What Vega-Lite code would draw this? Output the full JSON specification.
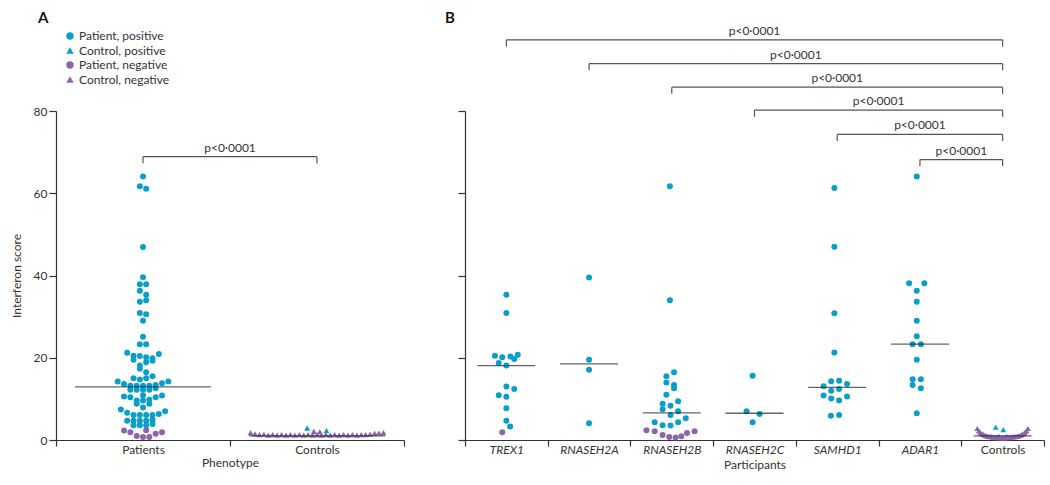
{
  "$schema": "https://vega.github.io/schema/vega-lite/v6.json",
  "padding": {"left": 10, "top": 10, "right": 5, "bottom": 5},
  "background": "white",
  "config": {
    "font": "Lato",
    "view": {"stroke": null},
    "axis": {"domainColor": "#333", "tickColor": "#333", "labelColor": "#333", "titleColor": "#333", "labelFontSize": 12, "titleFontSize": 12, "titleFontWeight": "normal", "grid": false, "tickSize": 7, "domainWidth": 1.2, "tickWidth": 1.2},
    "legend": {"labelFontSize": 12, "labelColor": "#333"}
  },
  "datasets": {
    "a_pts": [
      {"cat": "Patients", "group": "Patient, positive", "score": 64.1, "lane": 0},
      {"cat": "Patients", "group": "Patient, positive", "score": 61.7, "lane": -1},
      {"cat": "Patients", "group": "Patient, positive", "score": 61.1, "lane": 1},
      {"cat": "Patients", "group": "Patient, positive", "score": 46.9, "lane": 0},
      {"cat": "Patients", "group": "Patient, positive", "score": 39.6, "lane": 0},
      {"cat": "Patients", "group": "Patient, positive", "score": 37.9, "lane": -1},
      {"cat": "Patients", "group": "Patient, positive", "score": 37.9, "lane": 1},
      {"cat": "Patients", "group": "Patient, positive", "score": 36.3, "lane": -1},
      {"cat": "Patients", "group": "Patient, positive", "score": 35.3, "lane": 1},
      {"cat": "Patients", "group": "Patient, positive", "score": 33.6, "lane": -1},
      {"cat": "Patients", "group": "Patient, positive", "score": 34.0, "lane": 1},
      {"cat": "Patients", "group": "Patient, positive", "score": 30.9, "lane": -1},
      {"cat": "Patients", "group": "Patient, positive", "score": 30.6, "lane": 1},
      {"cat": "Patients", "group": "Patient, positive", "score": 29.0, "lane": 0},
      {"cat": "Patients", "group": "Patient, positive", "score": 25.1, "lane": 0},
      {"cat": "Patients", "group": "Patient, positive", "score": 23.3, "lane": -1},
      {"cat": "Patients", "group": "Patient, positive", "score": 23.3, "lane": 1},
      {"cat": "Patients", "group": "Patient, positive", "score": 21.2, "lane": -5},
      {"cat": "Patients", "group": "Patient, positive", "score": 20.5, "lane": -3},
      {"cat": "Patients", "group": "Patient, positive", "score": 20.4, "lane": -1},
      {"cat": "Patients", "group": "Patient, positive", "score": 20.1, "lane": 1},
      {"cat": "Patients", "group": "Patient, positive", "score": 19.9, "lane": 3},
      {"cat": "Patients", "group": "Patient, positive", "score": 20.9, "lane": 5},
      {"cat": "Patients", "group": "Patient, positive", "score": 19.5, "lane": -3},
      {"cat": "Patients", "group": "Patient, positive", "score": 19.3, "lane": 3},
      {"cat": "Patients", "group": "Patient, positive", "score": 18.9, "lane": 1},
      {"cat": "Patients", "group": "Patient, positive", "score": 18.1, "lane": -1},
      {"cat": "Patients", "group": "Patient, positive", "score": 17.3, "lane": -1},
      {"cat": "Patients", "group": "Patient, positive", "score": 16.5, "lane": 1},
      {"cat": "Patients", "group": "Patient, positive", "score": 15.5, "lane": 3},
      {"cat": "Patients", "group": "Patient, positive", "score": 15.0, "lane": -3},
      {"cat": "Patients", "group": "Patient, positive", "score": 14.7, "lane": -1},
      {"cat": "Patients", "group": "Patient, positive", "score": 15.0, "lane": 1},
      {"cat": "Patients", "group": "Patient, positive", "score": 14.2, "lane": -8},
      {"cat": "Patients", "group": "Patient, positive", "score": 13.6, "lane": -6},
      {"cat": "Patients", "group": "Patient, positive", "score": 13.2, "lane": -4},
      {"cat": "Patients", "group": "Patient, positive", "score": 13.2, "lane": -2},
      {"cat": "Patients", "group": "Patient, positive", "score": 13.2, "lane": 0},
      {"cat": "Patients", "group": "Patient, positive", "score": 13.2, "lane": 2},
      {"cat": "Patients", "group": "Patient, positive", "score": 13.4, "lane": 4},
      {"cat": "Patients", "group": "Patient, positive", "score": 13.8, "lane": 6},
      {"cat": "Patients", "group": "Patient, positive", "score": 14.2, "lane": 8},
      {"cat": "Patients", "group": "Patient, positive", "score": 12.2, "lane": -4},
      {"cat": "Patients", "group": "Patient, positive", "score": 12.2, "lane": -2},
      {"cat": "Patients", "group": "Patient, positive", "score": 12.2, "lane": 0},
      {"cat": "Patients", "group": "Patient, positive", "score": 12.2, "lane": 2},
      {"cat": "Patients", "group": "Patient, positive", "score": 12.6, "lane": 4},
      {"cat": "Patients", "group": "Patient, positive", "score": 10.6, "lane": -6},
      {"cat": "Patients", "group": "Patient, positive", "score": 10.4, "lane": -4},
      {"cat": "Patients", "group": "Patient, positive", "score": 10.9, "lane": 0},
      {"cat": "Patients", "group": "Patient, positive", "score": 10.4, "lane": 4},
      {"cat": "Patients", "group": "Patient, positive", "score": 10.8, "lane": 6},
      {"cat": "Patients", "group": "Patient, positive", "score": 9.6, "lane": -2},
      {"cat": "Patients", "group": "Patient, positive", "score": 9.6, "lane": 0},
      {"cat": "Patients", "group": "Patient, positive", "score": 9.8, "lane": 2},
      {"cat": "Patients", "group": "Patient, positive", "score": 8.8, "lane": -2},
      {"cat": "Patients", "group": "Patient, positive", "score": 8.8, "lane": 2},
      {"cat": "Patients", "group": "Patient, positive", "score": 7.9, "lane": 0},
      {"cat": "Patients", "group": "Patient, positive", "score": 7.4, "lane": -7},
      {"cat": "Patients", "group": "Patient, positive", "score": 6.6, "lane": -5},
      {"cat": "Patients", "group": "Patient, positive", "score": 6.1, "lane": -3},
      {"cat": "Patients", "group": "Patient, positive", "score": 6.1, "lane": -1},
      {"cat": "Patients", "group": "Patient, positive", "score": 6.1, "lane": 1},
      {"cat": "Patients", "group": "Patient, positive", "score": 6.1, "lane": 3},
      {"cat": "Patients", "group": "Patient, positive", "score": 6.3, "lane": 5},
      {"cat": "Patients", "group": "Patient, positive", "score": 7.0, "lane": 7},
      {"cat": "Patients", "group": "Patient, positive", "score": 4.7, "lane": -5},
      {"cat": "Patients", "group": "Patient, positive", "score": 4.7, "lane": -3},
      {"cat": "Patients", "group": "Patient, positive", "score": 4.7, "lane": -1},
      {"cat": "Patients", "group": "Patient, positive", "score": 4.7, "lane": 1},
      {"cat": "Patients", "group": "Patient, positive", "score": 4.9, "lane": 3},
      {"cat": "Patients", "group": "Patient, positive", "score": 3.6, "lane": -3},
      {"cat": "Patients", "group": "Patient, positive", "score": 3.6, "lane": -1},
      {"cat": "Patients", "group": "Patient, positive", "score": 3.6, "lane": 1},
      {"cat": "Patients", "group": "Patient, positive", "score": 3.9, "lane": 3},
      {"cat": "Patients", "group": "Patient, negative", "score": 2.3, "lane": -6},
      {"cat": "Patients", "group": "Patient, negative", "score": 1.9, "lane": -4},
      {"cat": "Patients", "group": "Patient, negative", "score": 1.0, "lane": -2},
      {"cat": "Patients", "group": "Patient, negative", "score": 0.7, "lane": 0},
      {"cat": "Patients", "group": "Patient, negative", "score": 0.7, "lane": 2},
      {"cat": "Patients", "group": "Patient, negative", "score": 2.4, "lane": 1},
      {"cat": "Patients", "group": "Patient, negative", "score": 1.5, "lane": 4},
      {"cat": "Patients", "group": "Patient, negative", "score": 1.9, "lane": 6},
      {"cat": "Controls", "group": "Control, negative", "score": 1.8, "lane": -21},
      {"cat": "Controls", "group": "Control, negative", "score": 1.5, "lane": -19.6},
      {"cat": "Controls", "group": "Control, negative", "score": 1.3, "lane": -18.2},
      {"cat": "Controls", "group": "Control, negative", "score": 1.4, "lane": -16.8},
      {"cat": "Controls", "group": "Control, negative", "score": 1.2, "lane": -15.4},
      {"cat": "Controls", "group": "Control, negative", "score": 1.3, "lane": -14},
      {"cat": "Controls", "group": "Control, negative", "score": 1.2, "lane": -12.6},
      {"cat": "Controls", "group": "Control, negative", "score": 1.3, "lane": -11.2},
      {"cat": "Controls", "group": "Control, negative", "score": 1.2, "lane": -9.8},
      {"cat": "Controls", "group": "Control, negative", "score": 1.3, "lane": -8.4},
      {"cat": "Controls", "group": "Control, negative", "score": 1.2, "lane": -7},
      {"cat": "Controls", "group": "Control, negative", "score": 1.3, "lane": -5.6},
      {"cat": "Controls", "group": "Control, negative", "score": 1.2, "lane": -4.2},
      {"cat": "Controls", "group": "Control, negative", "score": 1.3, "lane": -2.8},
      {"cat": "Controls", "group": "Control, negative", "score": 1.2, "lane": -1.4},
      {"cat": "Controls", "group": "Control, negative", "score": 1.3, "lane": 0},
      {"cat": "Controls", "group": "Control, negative", "score": 1.2, "lane": 1.4},
      {"cat": "Controls", "group": "Control, negative", "score": 1.3, "lane": 2.8},
      {"cat": "Controls", "group": "Control, negative", "score": 1.2, "lane": 4.2},
      {"cat": "Controls", "group": "Control, negative", "score": 1.3, "lane": 5.6},
      {"cat": "Controls", "group": "Control, negative", "score": 1.2, "lane": 7},
      {"cat": "Controls", "group": "Control, negative", "score": 1.3, "lane": 8.4},
      {"cat": "Controls", "group": "Control, negative", "score": 1.2, "lane": 9.8},
      {"cat": "Controls", "group": "Control, negative", "score": 1.3, "lane": 11.2},
      {"cat": "Controls", "group": "Control, negative", "score": 1.2, "lane": 12.6},
      {"cat": "Controls", "group": "Control, negative", "score": 1.3, "lane": 14},
      {"cat": "Controls", "group": "Control, negative", "score": 1.3, "lane": 15.4},
      {"cat": "Controls", "group": "Control, negative", "score": 1.4, "lane": 16.8},
      {"cat": "Controls", "group": "Control, negative", "score": 1.6, "lane": 18.2},
      {"cat": "Controls", "group": "Control, negative", "score": 1.7, "lane": 19.6},
      {"cat": "Controls", "group": "Control, negative", "score": 1.8, "lane": 21},
      {"cat": "Controls", "group": "Control, negative", "score": 2.1, "lane": -1.0},
      {"cat": "Controls", "group": "Control, negative", "score": 2.0, "lane": 0.9},
      {"cat": "Controls", "group": "Control, positive", "score": 2.9, "lane": -3.1},
      {"cat": "Controls", "group": "Control, positive", "score": 2.3, "lane": 3.0}
    ],
    "b_pts": [
      {"cat": "TREX1", "group": "Patient, positive", "score": 35.3, "lane": 0},
      {"cat": "TREX1", "group": "Patient, positive", "score": 30.9, "lane": 0},
      {"cat": "TREX1", "group": "Patient, positive", "score": 20.5, "lane": -3.6},
      {"cat": "TREX1", "group": "Patient, positive", "score": 20.1, "lane": -1.3},
      {"cat": "TREX1", "group": "Patient, positive", "score": 20.3, "lane": 1.3},
      {"cat": "TREX1", "group": "Patient, positive", "score": 20.7, "lane": 3.6},
      {"cat": "TREX1", "group": "Patient, positive", "score": 18.7, "lane": -2.4},
      {"cat": "TREX1", "group": "Patient, positive", "score": 18.1, "lane": 0},
      {"cat": "TREX1", "group": "Patient, positive", "score": 19.7, "lane": 2.5},
      {"cat": "TREX1", "group": "Patient, positive", "score": 13.0, "lane": 0},
      {"cat": "TREX1", "group": "Patient, positive", "score": 12.4, "lane": 2.5},
      {"cat": "TREX1", "group": "Patient, positive", "score": 10.9, "lane": -2.4},
      {"cat": "TREX1", "group": "Patient, positive", "score": 10.5, "lane": 0},
      {"cat": "TREX1", "group": "Patient, positive", "score": 7.7, "lane": 0},
      {"cat": "TREX1", "group": "Patient, positive", "score": 4.7, "lane": 0},
      {"cat": "TREX1", "group": "Patient, positive", "score": 3.3, "lane": 1.2},
      {"cat": "TREX1", "group": "Patient, negative", "score": 1.9, "lane": -1.3},
      {"cat": "RNASEH2A", "group": "Patient, positive", "score": 39.5, "lane": 0},
      {"cat": "RNASEH2A", "group": "Patient, positive", "score": 19.5, "lane": 0},
      {"cat": "RNASEH2A", "group": "Patient, positive", "score": 17.1, "lane": 0},
      {"cat": "RNASEH2A", "group": "Patient, positive", "score": 4.1, "lane": 0},
      {"cat": "RNASEH2B", "group": "Patient, positive", "score": 61.7, "lane": -0.6},
      {"cat": "RNASEH2B", "group": "Patient, positive", "score": 34.0, "lane": -0.6},
      {"cat": "RNASEH2B", "group": "Patient, positive", "score": 16.5, "lane": 0.7},
      {"cat": "RNASEH2B", "group": "Patient, positive", "score": 15.5, "lane": -1.7},
      {"cat": "RNASEH2B", "group": "Patient, positive", "score": 14.0, "lane": -1.7},
      {"cat": "RNASEH2B", "group": "Patient, positive", "score": 13.4, "lane": 0.7},
      {"cat": "RNASEH2B", "group": "Patient, positive", "score": 12.6, "lane": 0.7},
      {"cat": "RNASEH2B", "group": "Patient, positive", "score": 11.0, "lane": -1.7},
      {"cat": "RNASEH2B", "group": "Patient, positive", "score": 9.4, "lane": 2},
      {"cat": "RNASEH2B", "group": "Patient, positive", "score": 8.8, "lane": -2.9},
      {"cat": "RNASEH2B", "group": "Patient, positive", "score": 8.3, "lane": -0.4},
      {"cat": "RNASEH2B", "group": "Patient, positive", "score": 7.5, "lane": -2.9},
      {"cat": "RNASEH2B", "group": "Patient, positive", "score": 7.0, "lane": 2},
      {"cat": "RNASEH2B", "group": "Patient, positive", "score": 6.1, "lane": -0.4},
      {"cat": "RNASEH2B", "group": "Patient, positive", "score": 5.3, "lane": 4.4},
      {"cat": "RNASEH2B", "group": "Patient, positive", "score": 4.3, "lane": -5.4},
      {"cat": "RNASEH2B", "group": "Patient, positive", "score": 3.6, "lane": -2.9},
      {"cat": "RNASEH2B", "group": "Patient, positive", "score": 3.5, "lane": -0.4},
      {"cat": "RNASEH2B", "group": "Patient, positive", "score": 4.3, "lane": 2},
      {"cat": "RNASEH2B", "group": "Patient, negative", "score": 2.4, "lane": -8},
      {"cat": "RNASEH2B", "group": "Patient, negative", "score": 2.1, "lane": -5.4},
      {"cat": "RNASEH2B", "group": "Patient, negative", "score": 1.2, "lane": -2.9},
      {"cat": "RNASEH2B", "group": "Patient, negative", "score": 0.7, "lane": -0.8},
      {"cat": "RNASEH2B", "group": "Patient, negative", "score": 0.6, "lane": 1.2},
      {"cat": "RNASEH2B", "group": "Patient, negative", "score": 0.9, "lane": 3.0},
      {"cat": "RNASEH2B", "group": "Patient, negative", "score": 1.7, "lane": 4.8},
      {"cat": "RNASEH2B", "group": "Patient, negative", "score": 2.1, "lane": 7.2},
      {"cat": "RNASEH2C", "group": "Patient, positive", "score": 15.6, "lane": -0.6},
      {"cat": "RNASEH2C", "group": "Patient, positive", "score": 7.0, "lane": -2.5},
      {"cat": "RNASEH2C", "group": "Patient, positive", "score": 6.3, "lane": 1.6},
      {"cat": "RNASEH2C", "group": "Patient, positive", "score": 4.3, "lane": -0.6},
      {"cat": "SAMHD1", "group": "Patient, positive", "score": 61.3, "lane": -0.9},
      {"cat": "SAMHD1", "group": "Patient, positive", "score": 47.0, "lane": -0.9},
      {"cat": "SAMHD1", "group": "Patient, positive", "score": 30.8, "lane": -0.9},
      {"cat": "SAMHD1", "group": "Patient, positive", "score": 21.3, "lane": -0.9},
      {"cat": "SAMHD1", "group": "Patient, positive", "score": 14.3, "lane": -1.9},
      {"cat": "SAMHD1", "group": "Patient, positive", "score": 14.4, "lane": 0.6},
      {"cat": "SAMHD1", "group": "Patient, positive", "score": 13.1, "lane": -4.3},
      {"cat": "SAMHD1", "group": "Patient, positive", "score": 13.6, "lane": 3.1},
      {"cat": "SAMHD1", "group": "Patient, positive", "score": 12.0, "lane": -1.9},
      {"cat": "SAMHD1", "group": "Patient, positive", "score": 12.4, "lane": 0.6},
      {"cat": "SAMHD1", "group": "Patient, positive", "score": 10.8, "lane": -4.3},
      {"cat": "SAMHD1", "group": "Patient, positive", "score": 10.1, "lane": -1.9},
      {"cat": "SAMHD1", "group": "Patient, positive", "score": 9.6, "lane": 0.6},
      {"cat": "SAMHD1", "group": "Patient, positive", "score": 10.6, "lane": 3.1},
      {"cat": "SAMHD1", "group": "Patient, positive", "score": 5.9, "lane": -2},
      {"cat": "SAMHD1", "group": "Patient, positive", "score": 6.1, "lane": 0.6},
      {"cat": "ADAR1", "group": "Patient, positive", "score": 64.1, "lane": -1},
      {"cat": "ADAR1", "group": "Patient, positive", "score": 38.1, "lane": -3.4},
      {"cat": "ADAR1", "group": "Patient, positive", "score": 38.1, "lane": 1.4},
      {"cat": "ADAR1", "group": "Patient, positive", "score": 36.3, "lane": -1},
      {"cat": "ADAR1", "group": "Patient, positive", "score": 33.6, "lane": -1},
      {"cat": "ADAR1", "group": "Patient, positive", "score": 29.0, "lane": -1},
      {"cat": "ADAR1", "group": "Patient, positive", "score": 25.2, "lane": -1},
      {"cat": "ADAR1", "group": "Patient, positive", "score": 23.3, "lane": -2.3},
      {"cat": "ADAR1", "group": "Patient, positive", "score": 23.3, "lane": 0.3},
      {"cat": "ADAR1", "group": "Patient, positive", "score": 19.5, "lane": -1},
      {"cat": "ADAR1", "group": "Patient, positive", "score": 14.8, "lane": -2.3},
      {"cat": "ADAR1", "group": "Patient, positive", "score": 14.8, "lane": 0.3},
      {"cat": "ADAR1", "group": "Patient, positive", "score": 13.4, "lane": -2.3},
      {"cat": "ADAR1", "group": "Patient, positive", "score": 12.6, "lane": 0.3},
      {"cat": "ADAR1", "group": "Patient, positive", "score": 6.5, "lane": -1},
      {"cat": "Controls", "group": "Control, negative", "score": 2.8, "lane": -8},
      {"cat": "Controls", "group": "Control, negative", "score": 2.2, "lane": -7.5},
      {"cat": "Controls", "group": "Control, negative", "score": 1.8, "lane": -7},
      {"cat": "Controls", "group": "Control, negative", "score": 1.5, "lane": -6.5},
      {"cat": "Controls", "group": "Control, negative", "score": 1.3, "lane": -6},
      {"cat": "Controls", "group": "Control, negative", "score": 1.1, "lane": -5.5},
      {"cat": "Controls", "group": "Control, negative", "score": 1.0, "lane": -5},
      {"cat": "Controls", "group": "Control, negative", "score": 0.9, "lane": -4.5},
      {"cat": "Controls", "group": "Control, negative", "score": 0.8, "lane": -4},
      {"cat": "Controls", "group": "Control, negative", "score": 0.8, "lane": -3.5},
      {"cat": "Controls", "group": "Control, negative", "score": 0.7, "lane": -3},
      {"cat": "Controls", "group": "Control, negative", "score": 0.7, "lane": -2.5},
      {"cat": "Controls", "group": "Control, negative", "score": 0.7, "lane": -2},
      {"cat": "Controls", "group": "Control, negative", "score": 0.6, "lane": -1.5},
      {"cat": "Controls", "group": "Control, negative", "score": 0.6, "lane": -1},
      {"cat": "Controls", "group": "Control, negative", "score": 0.6, "lane": -0.5},
      {"cat": "Controls", "group": "Control, negative", "score": 0.6, "lane": 0},
      {"cat": "Controls", "group": "Control, negative", "score": 0.6, "lane": 0.5},
      {"cat": "Controls", "group": "Control, negative", "score": 0.6, "lane": 1},
      {"cat": "Controls", "group": "Control, negative", "score": 0.6, "lane": 1.5},
      {"cat": "Controls", "group": "Control, negative", "score": 0.7, "lane": 2},
      {"cat": "Controls", "group": "Control, negative", "score": 0.7, "lane": 2.5},
      {"cat": "Controls", "group": "Control, negative", "score": 0.7, "lane": 3},
      {"cat": "Controls", "group": "Control, negative", "score": 0.8, "lane": 3.5},
      {"cat": "Controls", "group": "Control, negative", "score": 0.8, "lane": 4},
      {"cat": "Controls", "group": "Control, negative", "score": 0.9, "lane": 4.5},
      {"cat": "Controls", "group": "Control, negative", "score": 1.0, "lane": 5},
      {"cat": "Controls", "group": "Control, negative", "score": 1.1, "lane": 5.5},
      {"cat": "Controls", "group": "Control, negative", "score": 1.3, "lane": 6},
      {"cat": "Controls", "group": "Control, negative", "score": 1.5, "lane": 6.5},
      {"cat": "Controls", "group": "Control, negative", "score": 1.8, "lane": 7},
      {"cat": "Controls", "group": "Control, negative", "score": 2.2, "lane": 7.5},
      {"cat": "Controls", "group": "Control, negative", "score": 2.8, "lane": 8},
      {"cat": "Controls", "group": "Control, negative", "score": 0.9, "lane": -1.2},
      {"cat": "Controls", "group": "Control, negative", "score": 0.9, "lane": 1.2},
      {"cat": "Controls", "group": "Control, positive", "score": 3.1, "lane": -2.2},
      {"cat": "Controls", "group": "Control, positive", "score": 2.5, "lane": 0.2}
    ],
    "a_med": [
      {"cat": "Patients", "median": 12.9},
      {"cat": "Controls", "median": 1.0}
    ],
    "b_med": [
      {"cat": "TREX1", "median": 18.1},
      {"cat": "RNASEH2A", "median": 18.5},
      {"cat": "RNASEH2B", "median": 6.6},
      {"cat": "RNASEH2C", "median": 6.5},
      {"cat": "SAMHD1", "median": 12.8},
      {"cat": "ADAR1", "median": 23.3},
      {"cat": "Controls", "median": 1.0}
    ],
    "a_br": [
      {"from": "Patients", "to": "Controls", "y": 68.9, "yEnd": 67.3, "mid": "Controls", "at": "start", "label": "p<0·0001"}
    ],
    "b_br": [
      {"from": "TREX1", "to": "Controls", "y": 97.3, "yEnd": 95.7, "mid": "RNASEH2C", "at": "center", "label": "p<0·0001"},
      {"from": "RNASEH2A", "to": "Controls", "y": 91.5, "yEnd": 89.9, "mid": "SAMHD1", "at": "start", "label": "p<0·0001"},
      {"from": "RNASEH2B", "to": "Controls", "y": 85.8, "yEnd": 84.2, "mid": "SAMHD1", "at": "center", "label": "p<0·0001"},
      {"from": "RNASEH2C", "to": "Controls", "y": 80.2, "yEnd": 78.6, "mid": "ADAR1", "at": "start", "label": "p<0·0001"},
      {"from": "SAMHD1", "to": "Controls", "y": 74.3, "yEnd": 72.7, "mid": "ADAR1", "at": "center", "label": "p<0·0001"},
      {"from": "ADAR1", "to": "Controls", "y": 68.2, "yEnd": 66.6, "mid": "Controls", "at": "start", "label": "p<0·0001"}
    ]
  },
  "resolve": {"scale": {"color": "independent", "shape": "independent", "xOffset": "independent"}},
  "spacing": 40,
  "hconcat": [
    {
      "width": 348,
      "height": 329,
      "title": {"text": "A", "anchor": "start", "frame": "group", "offset": 4, "dx": -18, "fontSize": 15, "fontWeight": "bold", "color": "#111"},
      "layer": [
        {
          "data": {"name": "a_pts"},
          "mark": {"type": "point", "filled": true, "opacity": 1, "size": 36},
          "encoding": {
            "x": {"field": "cat", "type": "nominal", "title": "Phenotype",
                  "scale": {"domain": ["Patients", "Controls"], "paddingInner": 0, "paddingOuter": 0},
                  "axis": {"labelAngle": 0, "tickBand": "extent", "tickSize": 6, "labelPadding": -2, "titlePadding": 2}},
            "xOffset": {"field": "lane", "type": "quantitative", "scale": {"domain": [-27.5, 27.5]}},
            "y": {"field": "score", "type": "quantitative", "title": "Interferon score",
                  "scale": {"domain": [0, 80], "nice": false},
                  "axis": {"values": [0, 20, 40, 60, 80], "titlePadding": 10, "labelPadding": 2}},
            "color": {"field": "group", "type": "nominal",
                      "scale": {"domain": ["Patient, positive", "Control, positive", "Patient, negative", "Control, negative"], "range": ["#0a9fc9", "#0a9fc9", "#8c64aa", "#8c64aa"]},
                      "legend": {"title": null, "orient": "none", "legendX": 8, "legendY": -81, "symbolSize": 55, "rowPadding": 2.5, "labelOffset": 3, "symbolStrokeWidth": 0}},
            "shape": {"field": "group", "type": "nominal",
                      "scale": {"domain": ["Patient, positive", "Control, positive", "Patient, negative", "Control, negative"], "range": ["circle", "triangle-up", "circle", "triangle-up"]}}
          }
        },
        {
          "data": {"name": "a_med"},
          "mark": {"type": "tick", "color": "#222", "thickness": 1.3, "size": 136},
          "encoding": {
            "x": {"field": "cat", "type": "nominal", "bandPosition": 0.5},
            "y": {"field": "median", "type": "quantitative"}
          }
        },
        {
          "data": {"name": "a_br"},
          "mark": {"type": "rule", "color": "#555", "strokeWidth": 1.2},
          "encoding": {
            "x": {"field": "from", "type": "nominal"},
            "x2": {"field": "to"},
            "y": {"field": "y", "type": "quantitative"}
          }
        },
        {
          "data": {"name": "a_br"},
          "mark": {"type": "rule", "color": "#555", "strokeWidth": 1.2},
          "encoding": {
            "x": {"field": "from", "type": "nominal"},
            "y": {"field": "y", "type": "quantitative"},
            "y2": {"field": "yEnd"}
          }
        },
        {
          "data": {"name": "a_br"},
          "mark": {"type": "rule", "color": "#555", "strokeWidth": 1.2},
          "encoding": {
            "x": {"field": "to", "type": "nominal"},
            "y": {"field": "y", "type": "quantitative"},
            "y2": {"field": "yEnd"}
          }
        },
        {
          "data": {"name": "a_br"},
          "mark": {"type": "text", "fontSize": 12, "color": "#333", "baseline": "bottom", "dy": -2},
          "encoding": {
            "x": {"field": "mid", "type": "nominal", "bandPosition": 0},
            "y": {"field": "y", "type": "quantitative"},
            "text": {"field": "label"}
          }
        }
      ]
    },
    {
      "width": 579,
      "height": 329,
      "title": {"text": "B", "anchor": "start", "frame": "group", "offset": -1, "dx": -20, "fontSize": 15, "fontWeight": "bold", "color": "#111"},
      "layer": [
        {
          "data": {"name": "b_pts"},
          "mark": {"type": "point", "filled": true, "opacity": 1, "size": 36},
          "encoding": {
            "x": {"field": "cat", "type": "nominal", "title": "Participants",
                  "scale": {"domain": ["TREX1", "RNASEH2A", "RNASEH2B", "RNASEH2C", "SAMHD1", "ADAR1", "Controls"], "paddingInner": 0, "paddingOuter": 0},
                  "axis": {"labelAngle": 0, "tickBand": "extent", "tickSize": 6, "labelPadding": -2, "titlePadding": 4,
                           "labelFontStyle": {"expr": "datum.value === 'Controls' ? 'normal' : 'italic'"}}},
            "xOffset": {"field": "lane", "type": "quantitative", "scale": {"domain": [-13.05, 13.05]}},
            "y": {"field": "score", "type": "quantitative", "title": null,
                  "scale": {"domain": [0, 80], "nice": false},
                  "axis": {"values": [0, 20, 40, 60, 80], "labels": false}},
            "color": {"field": "group", "type": "nominal",
                      "scale": {"domain": ["Patient, positive", "Control, positive", "Patient, negative", "Control, negative"], "range": ["#0a9fc9", "#0a9fc9", "#8c64aa", "#8c64aa"]},
                      "legend": null},
            "shape": {"field": "group", "type": "nominal",
                      "scale": {"domain": ["Patient, positive", "Control, positive", "Patient, negative", "Control, negative"], "range": ["circle", "triangle-up", "circle", "triangle-up"]},
                      "legend": null}
          }
        },
        {
          "data": {"name": "b_med"},
          "mark": {"type": "tick", "color": "#222", "thickness": 1.3, "size": 58},
          "encoding": {
            "x": {"field": "cat", "type": "nominal", "bandPosition": 0.5},
            "y": {"field": "median", "type": "quantitative"}
          }
        },
        {
          "data": {"name": "b_br"},
          "mark": {"type": "rule", "color": "#555", "strokeWidth": 1.2},
          "encoding": {
            "x": {"field": "from", "type": "nominal"},
            "x2": {"field": "to"},
            "y": {"field": "y", "type": "quantitative"}
          }
        },
        {
          "data": {"name": "b_br"},
          "mark": {"type": "rule", "color": "#555", "strokeWidth": 1.2},
          "encoding": {
            "x": {"field": "from", "type": "nominal"},
            "y": {"field": "y", "type": "quantitative"},
            "y2": {"field": "yEnd"}
          }
        },
        {
          "data": {"name": "b_br"},
          "mark": {"type": "rule", "color": "#555", "strokeWidth": 1.2},
          "encoding": {
            "x": {"field": "to", "type": "nominal"},
            "y": {"field": "y", "type": "quantitative"},
            "y2": {"field": "yEnd"}
          }
        },
        {
          "data": {"name": "b_br"},
          "transform": [{"filter": "datum.at === 'center'"}],
          "mark": {"type": "text", "fontSize": 12, "color": "#333", "baseline": "bottom", "dy": -2},
          "encoding": {
            "x": {"field": "mid", "type": "nominal"},
            "y": {"field": "y", "type": "quantitative"},
            "text": {"field": "label"}
          }
        },
        {
          "data": {"name": "b_br"},
          "transform": [{"filter": "datum.at === 'start'"}],
          "mark": {"type": "text", "fontSize": 12, "color": "#333", "baseline": "bottom", "dy": -2},
          "encoding": {
            "x": {"field": "mid", "type": "nominal", "bandPosition": 0},
            "y": {"field": "y", "type": "quantitative"},
            "text": {"field": "label"}
          }
        }
      ]
    }
  ]
}
